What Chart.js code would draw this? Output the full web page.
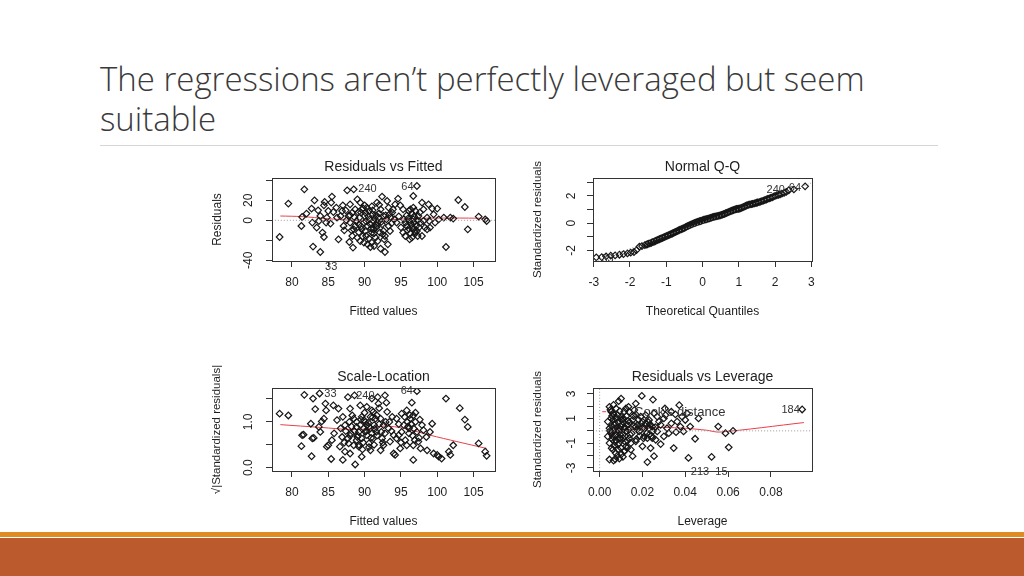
<!DOCTYPE html>
<html>
<head>
<meta charset="utf-8">
<script src="https://cdn.jsdelivr.net/npm/chart.js@4.4.0/dist/chart.umd.min.js"></script>
<style>
    body { margin: 0; width: 1024px; height: 576px; background: #fff; position: relative; overflow: hidden; }
    #slide-title { position: absolute; left: 100px; top: 59px; width: 880px; font-family: 'Open Sans', sans-serif; font-weight: 300; font-size: 33px; line-height: 40px; color: #3a3a3a; }
    #rule { position: absolute; left: 100px; top: 145px; width: 838px; height: 1px; background: #d6d6d6; }
    #stripe { position: absolute; left: 0; top: 532px; width: 1024px; height: 5px; background: #e08a22; }
    #footer { position: absolute; left: 0; top: 538px; width: 1024px; height: 38px; background: #bb5a2d; }
    canvas { position: absolute; }
</style>
</head>
<body>
<div id="slide-title">The regressions aren’t perfectly leveraged but seem<br>suitable</div>
<div id="rule"></div>
<canvas id="chart-resid-fitted" width="367" height="175" style="left:200px; top:150px;"></canvas>
<canvas id="chart-normal-qq" width="363" height="175" style="left:521px; top:150px;"></canvas>
<canvas id="chart-scale-location" width="367" height="175" style="left:200px; top:360px;"></canvas>
<canvas id="chart-resid-leverage" width="363" height="175" style="left:521px; top:360px;"></canvas>
<div id="stripe"></div>
<div id="footer"></div>
<script>
// Residuals vs Fitted
const rfFitted = [81.7, 79.5, 78.3, 83.1, 82.0, 81.4, 81.3, 82.7, 82.8, 83.6, 84.5, 84.4, 85.5, 85.4, 84.2, 84.4, 82.9, 83.9, 83.4, 84.8,
    85.3, 85.7, 86.4, 86.7, 87.0, 87.6, 88.5, 88.0, 87.9, 88.4, 87.5, 88.3, 88.7, 89.0, 89.4, 89.3, 89.6, 89.4, 90.3, 90.1,
    90.7, 90.4, 90.2, 91.0, 90.8, 91.5, 91.7, 92.4, 92.2, 91.6, 91.8, 91.2, 92.6, 92.2, 92.8, 93.2, 92.8, 93.3, 93.1, 93.8,
    94.1, 94.4, 94.6, 94.9, 95.3, 95.8, 95.8, 95.3, 95.6, 96.3, 96.5, 96.3, 96.7, 96.7, 97.2, 97.4, 97.7, 97.9, 98.1, 98.3,
    98.6, 99.3, 99.5, 99.7, 100.0, 100.2, 100.9, 101.2, 101.8, 102.2, 102.9, 103.8, 104.2, 105.7, 106.6, 106.8,
    88.9, 89.2, 89.5, 89.9, 90.0, 90.1, 90.6, 90.8, 91.0, 91.1, 91.2, 91.5, 91.6, 91.9, 92.1, 92.4, 92.6, 92.7, 93.0, 93.3,
    93.5, 93.6, 93.9, 94.2, 88.0, 87.8, 87.1, 86.9, 86.2, 86.1, 85.0, 84.7, 83.9, 83.7, 88.7, 89.6, 88.5, 88.3, 89.0, 89.9,
    90.4, 91.3, 91.8, 95.4, 95.6, 96.1, 96.7, 96.8, 97.1, 96.7, 97.0, 97.2, 97.3, 96.2, 96.5, 96.1, 98.8, 99.0, 98.1, 97.9,
    98.6, 98.9,
    88.6, 89.1, 89.5, 89.8, 90.2, 90.5, 90.9, 91.1, 91.4, 91.7, 92.0, 92.3, 92.5, 92.9, 89.2, 89.7, 90.6, 91.3, 88.2, 88.0,
    87.4, 87.2, 93.4, 93.7, 90.0, 91.0, 92.0, 96.4, 96.6, 96.9, 97.0, 96.2, 96.0, 97.5, 97.6, 95.9, 96.8, 97.3, 95.0, 94.7];
const rfResidual = [31.0, 16.7, -16.7, 20.0, 6.7, 3.3, -5.7, 11.7, -2.3, 10.0, 18.3, 15.0, 23.7, 17.7, -12.3, -16.7, -26.3, -31.7, -7.3, 2.7,
    -3.3, 8.3, -19.0, 4.3, 15.0, 30.0, 31.0, 16.0, -21.7, -27.3, 0.0, 7.7, -5.7, 21.0, 17.7, 2.7, -9.0, -20.7, 12.7, 7.7,
    1.0, -5.7, -15.7, -22.3, -26.7, -17.3, 17.7, 23.7, 11.0, 5.0, -2.3, -9.0, -10.7, -28.3, -31.7, -24.0, -15.7, 12.7, 19.3, 7.7,
    1.0, -2.3, 21.7, 15.0, 11.0, 5.0, -5.7, -12.3, -15.7, -13.0, -17.3, 11.0, 12.7, 24.3, 34.3, 4.3, -2.3, 17.7, 11.0, -7.3,
    2.7, 11.7, 6.0, -2.3, 11.7, 1.0, 2.7, -26.7, 2.7, 1.7, 20.3, 13.3, -9.0, 3.7, 1.0, -0.7,
    -0.7, -4.0, 7.7, -2.3, 4.3, -10.7, 9.3, -4.0, -12.3, 6.0, -0.7, -4.0, -7.3, 2.7, -12.3, -4.0, 4.3, -19.0, 1.0, -5.7,
    -10.7, 2.7, 11.0, 16.0, -2.3, 4.3, -5.7, 9.3, 2.7, 12.7, 9.3, -2.3, 4.3, -0.7, 11.0, 11.0, -9.0, -15.7, -17.3, -22.3,
    -24.0, -25.7, -20.7, 1.0, -2.3, -8.3, -9.0, -2.3, -5.7, 1.0, 9.3, -10.7, -15.7, -19.0, 7.0, 9.3, 16.0, -7.3, -0.7, -15.7,
    -9.0, -0.7,
    3.0, 8.0, -6.0, 12.0, -1.0, 4.0, -8.0, 10.0, 2.0, -5.0, 7.0, -1.5, -14.0, 5.0, -12.0, -16.0, -18.0, -13.0, -10.0, 5.0,
    10.0, -10.0, 6.0, -3.0, 15.0, 14.0, 15.5, -4.0, -7.0, -11.0, -13.0, -1.0, 2.0, -7.0, 8.0, -10.0, 4.0, 0.0, -7.0, 4.0];
const rfSmoothX = [78.4, 81.4, 84.8, 88.5, 91.7, 94.4, 97.7, 101.8, 106.8];
const rfSmoothY = [4.3, 3.7, 1.7, 0.0, 0.0, 1.0, 2.0, 2.3, 2.0];
const rfNoteText = ['240', '64', '33'];
const rfNoteX = [90.4, 95.9, 85.4];
const rfNoteY = [31.0, 33.3, -46.9];
const rfYTickLabels = ['20', '0', '-40'];

// Normal Q-Q
const qqTheoretical = [-2.93, -2.78, -2.66, -2.53, -2.41, -2.29, -2.18, -2.07, -1.98, -1.89, -1.82, -1.74, -1.67, -1.59, -1.52, -1.45,
    -1.38, -1.31, -1.25, -1.19, -1.13, -1.07, -1.01, -0.95, -0.89, -0.83, -0.77, -0.71, -0.65, -0.59, -0.53, -0.47, -0.41, -0.35,
    -0.29, -0.23, -0.17, -0.11, -0.05, 0.01, 0.07, 0.13, 0.19, 0.25, 0.31, 0.37, 0.43, 0.49, 0.55, 0.61, 0.67, 0.73, 0.79, 0.85,
    0.91, 0.97, 1.03, 1.09, 1.15, 1.21, 1.28, 1.35, 1.42, 1.49, 1.56, 1.64, 1.72, 1.80, 1.88, 1.96, 2.05, 2.14, 2.25, 2.38,
    2.52, 2.83,
    -1.55, -1.48, -1.41, -1.34, -1.28, -1.22, -1.16, -1.10, -1.04, -0.98, -0.92, -0.86, -0.80, -0.74, -0.68, -0.62, -0.56, -0.50,
    -0.44, -0.38, -0.32, -0.26, -0.20, -0.14, -0.08, -0.02, 0.04, 0.10, 0.16, 0.22, 0.28, 0.34, 0.40, 0.46, 0.52, 0.58, 0.64,
    0.70, 0.76, 0.82, 0.88, 0.94, 1.00, 1.06, 1.12, 1.18, 1.25, 1.31, 1.38, 1.45, 1.52, 1.60, 1.68, 1.76, 1.84, 1.92, 2.00,
    2.10, 2.19, 2.31];
const qqStandardized = [-2.51, -2.49, -2.44, -2.39, -2.37, -2.32, -2.27, -2.22, -2.17, -2.12, -1.98, -1.73, -1.68, -1.61, -1.55, -1.48,
    -1.40, -1.33, -1.25, -1.18, -1.11, -1.04, -0.97, -0.90, -0.83, -0.76, -0.68, -0.60, -0.52, -0.45, -0.38, -0.30, -0.22, -0.14,
    -0.07, 0.00, 0.06, 0.11, 0.16, 0.22, 0.27, 0.31, 0.36, 0.41, 0.46, 0.50, 0.54, 0.58, 0.63, 0.69, 0.76, 0.83, 0.90, 0.96,
    1.02, 1.05, 1.08, 1.14, 1.22, 1.30, 1.36, 1.40, 1.44, 1.50, 1.55, 1.62, 1.70, 1.78, 1.86, 1.95, 2.05, 2.12, 2.22, 2.42,
    2.48, 2.71,
    -1.58, -1.51, -1.44, -1.37, -1.29, -1.21, -1.14, -1.08, -1.01, -0.94, -0.86, -0.79, -0.72, -0.64, -0.56, -0.48, -0.41, -0.34,
    -0.26, -0.18, -0.11, -0.04, 0.03, 0.09, 0.14, 0.19, 0.25, 0.29, 0.34, 0.39, 0.44, 0.48, 0.52, 0.56, 0.61, 0.66, 0.73,
    0.80, 0.86, 0.93, 0.99, 1.04, 1.06, 1.11, 1.18, 1.26, 1.33, 1.38, 1.42, 1.47, 1.52, 1.58, 1.66, 1.74, 1.82, 1.90, 2.00,
    2.09, 2.17, 2.30];
const qqLineX = [-3.1, 3.1];
const qqLineY = [-2.95, 3.05];
const qqNoteText = ['240', '64', '33'];
const qqNoteX = [2.02, 2.55, -2.62];
const qqNoteY = [2.46, 2.59, -2.6];
const qqYTickLabels = ['2', '0', '-2'];

// Scale-Location
const slFitted = [78.3, 79.5, 81.7, 82.9, 83.8, 83.2, 84.6, 84.7, 84.4, 84.1, 82.6, 81.4, 81.6, 81.3, 82.8, 83.0, 83.9, 83.7, 82.7, 84.8,
    85.0, 85.4, 85.5, 85.7, 86.4, 86.2, 86.7, 86.6, 86.9, 87.0, 87.3, 87.7, 88.0, 88.3, 87.9, 88.1, 87.8, 88.0, 88.7, 88.6,
    88.9, 89.0, 89.2, 89.4, 89.6, 89.9, 89.6, 90.1, 90.3, 90.6, 90.8, 90.3, 91.0, 91.2, 91.3, 91.6, 91.8, 91.9, 92.2, 92.4,
    92.2, 92.6, 92.8, 93.0, 93.1, 93.3, 94.0, 94.2, 94.4, 94.7, 94.9, 95.1, 95.4, 95.6, 95.8, 97.2, 96.5, 96.7, 96.7, 97.0,
    97.2, 97.4, 97.7, 97.9, 98.1, 98.5, 98.6, 99.0, 99.3, 99.5, 100.0, 100.2, 100.6, 101.2, 101.6, 101.8, 102.2, 103.1, 103.8, 104.2,
    105.7, 106.6, 106.8,
    88.5, 88.9, 89.2, 89.4, 89.9, 90.1, 90.6, 90.8, 91.0, 91.2, 91.5, 91.7, 90.8, 90.3, 89.6, 88.9, 88.5, 87.7, 87.3, 87.0,
    94.4, 95.1, 95.5, 95.8, 96.1, 96.3, 96.1, 96.7, 93.5, 93.8, 94.0, 92.6, 92.8,
    88.6, 89.1, 89.5, 89.8, 90.2, 90.5, 90.9, 91.1, 91.4, 91.7, 92.0, 92.3, 92.5, 92.9, 89.2, 89.7, 90.6, 91.3, 88.2, 88.0,
    87.4, 87.2, 93.4, 93.7, 90.0, 91.0, 92.0, 96.4, 96.6, 96.9, 97.0, 96.2, 96.0, 97.5, 97.6, 95.9, 96.8, 95.0, 94.7, 85.8];
const slSqrtStd = [1.18, 1.14, 1.59, 1.51, 1.62, 1.28, 1.40, 1.25, 1.07, 1.01, 0.96, 0.71, 0.72, 0.47, 0.64, 0.65, 0.78, 0.89, 0.25, 0.46,
    0.49, 0.19, 0.60, 1.36, 1.29, 1.04, 0.86, 0.46, 0.67, 0.17, 0.35, 1.54, 1.29, 1.14, 1.00, 0.75, 0.53, 0.31, 0.07, 1.58,
    0.89, 0.67, 0.46, 1.36, 1.11, 0.86, 0.24, 1.00, 0.71, 0.53, 0.38, 1.33, 1.51, 1.22, 0.93, 0.78, 1.54, 1.40, 1.07, 0.64,
    0.38, 0.49, 1.58, 1.42, 1.22, 0.86, 0.31, 0.28, 1.07, 0.71, 0.42, 1.18, 0.93, 0.60, 0.49, 1.67, 1.42, 1.14, 0.17, 1.00,
    0.78, 0.57, 0.42, 0.93, 0.82, 0.67, 0.38, 0.78, 0.96, 0.31, 0.28, 0.24, 0.20, 1.51, 0.35, 0.28, 0.49, 1.30, 1.05, 0.89,
    0.53, 0.35, 0.26,
    1.07, 1.00, 0.78, 0.93, 1.04, 0.78, 0.89, 0.86, 0.75, 0.64, 1.07, 1.14, 1.11, 0.93, 0.64, 0.60, 0.49, 0.64, 0.93, 1.11,
    0.64, 0.78, 1.11, 1.25, 0.86, 1.07, 0.75, 0.49, 0.57, 1.11, 0.71, 0.93, 0.75,
    0.80, 0.70, 1.05, 0.55, 0.80, 0.98, 0.65, 1.10, 0.85, 0.70, 0.95, 0.78, 0.55, 1.00, 0.50, 0.40, 0.45, 0.50, 0.90, 0.70,
    0.80, 0.55, 1.00, 0.80, 1.20, 1.25, 1.30, 0.95, 0.70, 0.60, 1.20, 1.15, 0.90, 0.65, 1.05, 1.00, 0.85, 0.55, 0.95, 0.75];
const slSmoothX = [78.4, 83.9, 88.5, 90.8, 92.8, 95.4, 99.0, 102.7, 106.8];
const slSmoothY = [0.94, 0.88, 0.83, 0.86, 0.91, 0.86, 0.71, 0.57, 0.42];
const slNoteText = ['33', '240', '64'];
const slNoteX = [85.3, 90.1, 95.8];
const slNoteY = [1.62, 1.57, 1.67];
const slYTickLabels = ['1.0', '0.0'];

// Residuals vs Leverage
const rlLeverage = [0.0100, 0.0089, 0.0197, 0.0249, 0.0372, 0.0305, 0.0946, 0.0046, 0.0054, 0.0077, 0.0123, 0.0138, 0.0162, 0.0169, 0.0215,
    0.0269, 0.0300, 0.0335, 0.0354, 0.0385, 0.0400, 0.0408, 0.0462, 0.0335, 0.0357, 0.0392, 0.0446, 0.0554, 0.0588, 0.0623,
    0.0603, 0.0523, 0.0415, 0.0346, 0.0254, 0.0223, 0.0285, 0.0262, 0.0046, 0.0065, 0.0092, 0.0154, 0.0146, 0.0238, 0.0200,
    0.0169, 0.0115, 0.0100, 0.0062, 0.0046, 0.0038, 0.0046, 0.0038, 0.0054, 0.0069, 0.0085, 0.0077, 0.0092, 0.0108, 0.0123,
    0.0131, 0.0108, 0.0100, 0.0154, 0.0177, 0.0185, 0.0200, 0.0215, 0.0231, 0.0223, 0.0246, 0.0269, 0.0285, 0.0300, 0.0315,
    0.0323, 0.0138, 0.0146, 0.0069, 0.0085, 0.0123, 0.0062, 0.0085, 0.0115, 0.0192, 0.0231, 0.0254, 0.0277, 0.0308, 0.0362,
    0.0377, 0.0423, 0.0169, 0.0135, 0.0054, 0.0062, 0.0100, 0.0115, 0.0169, 0.0208, 0.0246, 0.0231, 0.0200,
    0.0050, 0.0058, 0.0064, 0.0072, 0.0080, 0.0088, 0.0095, 0.0052, 0.0060, 0.0068, 0.0075, 0.0083, 0.0090, 0.0098, 0.0105,
    0.0112, 0.0120, 0.0128, 0.0135, 0.0142, 0.0057, 0.0066, 0.0079, 0.0087, 0.0094, 0.0101, 0.0109, 0.0117, 0.0125, 0.0133,
    0.0048, 0.0056, 0.0071, 0.0078, 0.0086, 0.0093, 0.0102, 0.0110, 0.0118, 0.0126, 0.0150, 0.0160, 0.0175, 0.0188, 0.0195,
    0.0210, 0.0220, 0.0235, 0.0250, 0.0260, 0.0170, 0.0182, 0.0205, 0.0228, 0.0242, 0.0158, 0.0140, 0.0130, 0.0065, 0.0073];
const rlStdResidual = [2.61, 2.40, 2.83, 2.53, 2.08, 1.81, 1.73, 1.95, 1.55, 1.81, 1.81, 1.55, 1.68, 1.33, 1.28,
    1.15, 1.01, 1.55, 1.33, 1.15, 0.88, 1.41, 1.01, 0.61, -0.11, -0.05, -0.64, 0.35, -0.19, 0.00,
    -1.33, -2.11, -2.19, -1.39, -2.05, -2.53, -1.07, -0.72, -2.32, -2.40, -2.24, -2.05, -1.52, -1.39, -1.25,
    -0.85, -1.65, -1.39, -1.52, -0.99, -0.45, 0.21, 0.75, 1.01, 0.48, 0.08, -0.32, -0.59, -0.32, -0.05,
    0.48, 0.75, 1.15, 0.88, 0.48, -0.05, 0.21, 0.61, -0.32, -0.59, 0.35, -0.05, 0.48, -0.45, 0.21,
    -0.19, -0.59, -0.99, -0.85, -1.12, -1.25, 1.41, 1.28, 1.55, 1.15, 0.88, 1.41, 0.75, 1.28, 0.75,
    0.35, 0.35, 2.21, 1.95, -0.05, -0.45, 0.35, 0.21, 0.35, -0.45, -0.59, 0.21, 0.75,
    1.70, 1.20, 0.90, 0.60, 0.30, 0.00, -0.30, -0.20, -0.70, -1.20, -1.80, -2.00, -1.00, -0.60, 0.50,
    1.00, -0.90, -1.40, 0.10, -0.30, 0.40, 1.30, 1.00, 0.70, 1.60, -1.90, -2.10, 0.30, 1.20, 0.80,
    0.00, -1.40, -0.40, -0.80, -1.50, 0.20, 0.90, -0.60, -1.60, 0.00, -0.20, 0.40, 0.10, -0.40, 0.60,
    0.20, -0.20, 0.50, 0.00, 0.30, -0.70, 0.90, -0.60, 0.70, -0.40, 1.20, 0.70, -0.80, 2.10, -2.30];
const rlSmoothX = [0.0038, 0.0100, 0.0200, 0.0300, 0.0400, 0.0500, 0.0560, 0.0954];
const rlSmoothY = [-0.19, 0.00, 0.21, 0.27, 0.21, 0.05, -0.10, 0.67];
const rlCookKeyX = [0.0012, 0.0069];
const rlCookKeyY = [1.55, 1.55];
const rlNoteText = ['184', '213', '15', "Cook's distance"];
const rlNoteX = [0.0892, 0.0469, 0.0569, 0.0374];
const rlNoteY = [1.68, -3.30, -3.30, 1.49];
const rlYTickLabels = ['3', '1', '-1', '-3'];

const inkColor = '#1e1e1e';
const smoothColor = '#e8404a';
const refColor = '#9a9a9a';
const plotFont = 'Liberation Sans, Arial, sans-serif';

function toPoints(xs, ys) {
    return xs.map(function (x, i) {
        return { x: x, y: ys[i] };
    });
}

function pointsDataset(xs, ys) {
    return {
        type: 'scatter',
        data: toPoints(xs, ys),
        pointStyle: 'rectRot',
        pointRadius: 3.3,
        borderWidth: 1.2,
        borderColor: '#161616',
        backgroundColor: 'rgba(0,0,0,0)',
        showLine: false
    };
}

function lineDataset(xs, ys, color, dash) {
    return {
        type: 'line',
        data: toPoints(xs, ys),
        borderColor: color,
        borderWidth: 1,
        borderDash: dash || [],
        pointRadius: 0,
        fill: false,
        tension: 0.3
    };
}

// R style frame, caption and point ids
const rPlotDecor = {
    id: 'rPlotDecor',
    afterDraw: function (chart, args, opts) {
        const ctx = chart.ctx;
        const area = chart.chartArea;
        ctx.save();
        ctx.strokeStyle = '#333';
        ctx.lineWidth = 1;
        ctx.strokeRect(Math.round(area.left) + 0.5, Math.round(area.top) + 0.5,
            Math.round(area.right - area.left), Math.round(area.bottom - area.top));

        ctx.fillStyle = inkColor;
        ctx.textAlign = 'center';
        ctx.textBaseline = 'middle';
        ctx.font = '14px ' + plotFont;
        ctx.fillText(opts.caption, (area.left + area.right) / 2, area.top - 11);

        const xScale = chart.scales.x;
        const yScale = chart.scales.y;
        opts.noteText.forEach(function (text, i) {
            ctx.font = (text.length > 4 ? '13px ' : '11px ') + plotFont;
            ctx.fillStyle = '#333';
            ctx.fillText(text, xScale.getPixelForValue(opts.noteX[i]), yScale.getPixelForValue(opts.noteY[i]));
        });
        ctx.restore();
    }
};

function makePanel(elementId, setup) {
    return new Chart(document.getElementById(elementId), {
        data: { datasets: setup.datasets },
        options: {
            responsive: false,
            animation: false,
            devicePixelRatio: 1,
            layout: { padding: { top: 28, right: 72, left: 0, bottom: 0 } },
            scales: {
                x: {
                    type: 'linear',
                    min: setup.xMin,
                    max: setup.xMax,
                    afterFit: function (scale) { scale.height = 64; },
                    ticks: {
                        stepSize: setup.xStep,
                        includeBounds: false,
                        autoSkip: false,
                        maxRotation: 0,
                        padding: 8,
                        color: inkColor,
                        font: { family: plotFont, size: 12 },
                        callback: setup.xFormat
                    },
                    grid: { drawOnChartArea: false, drawTicks: true, tickLength: 6, color: '#333' },
                    border: { display: true, color: '#333' },
                    title: {
                        display: true,
                        text: setup.xTitle,
                        color: inkColor,
                        font: { family: plotFont, size: 12 },
                        padding: { top: 0, bottom: 6.5 }
                    }
                },
                y: {
                    type: 'linear',
                    min: setup.yMin,
                    max: setup.yMax,
                    afterFit: function (scale) { scale.width = 72; },
                    ticks: {
                        stepSize: setup.yStep,
                        includeBounds: false,
                        autoSkip: false,
                        minRotation: 90,
                        maxRotation: 90,
                        crossAlign: 'center',
                        padding: setup.yPad,
                        color: inkColor,
                        font: { family: plotFont, size: 12 },
                        callback: function (value) {
                            const label = setup.yFormat(value);
                            return setup.yShown.includes(label) ? label : '';
                        }
                    },
                    grid: { drawOnChartArea: false, drawTicks: true, tickLength: 6, color: '#333' },
                    border: { display: true, color: '#333' },
                    title: {
                        display: true,
                        text: setup.yTitle,
                        color: inkColor,
                        font: { family: plotFont, size: setup.yTitleSize },
                        padding: { top: setup.yTitlePad, bottom: 0 }
                    }
                }
            },
            plugins: {
                legend: { display: false },
                tooltip: { enabled: false },
                rPlotDecor: {
                    caption: setup.caption,
                    noteText: setup.noteText,
                    noteX: setup.noteX,
                    noteY: setup.noteY
                }
            }
        },
        plugins: [rPlotDecor]
    });
}

function intLabel(v) { return String(Math.round(v)); }

makePanel('chart-resid-fitted', {
    caption: 'Residuals vs Fitted',
    xMin: 77.25, xMax: 107.95, xStep: 5, xFormat: intLabel, xTitle: 'Fitted values',
    yMin: -40.7, yMax: 42.3, yStep: 20, yFormat: intLabel, yShown: rfYTickLabels, yPad: 9,
    yTitle: 'Residuals', yTitleSize: 12, yTitlePad: 10.8,
    noteText: rfNoteText, noteX: rfNoteX, noteY: rfNoteY,
    datasets: [
        lineDataset([77.25, 107.95], [0, 0], refColor, [1, 2]),
        pointsDataset(rfFitted, rfResidual),
        lineDataset(rfSmoothX, rfSmoothY, smoothColor)
    ]
});

makePanel('chart-normal-qq', {
    caption: 'Normal Q-Q',
    xMin: -3.02, xMax: 3.02, xStep: 1, xFormat: intLabel, xTitle: 'Theoretical Quantiles',
    yMin: -2.78, yMax: 3.32, yStep: 1, yFormat: intLabel, yShown: qqYTickLabels, yPad: 10,
    yTitle: 'Standardized residuals', yTitleSize: 11.5, yTitlePad: 9.8,
    noteText: qqNoteText, noteX: qqNoteX, noteY: qqNoteY,
    datasets: [
        lineDataset(qqLineX, qqLineY, refColor, [1, 2]),
        pointsDataset(qqTheoretical, qqStandardized)
    ]
});

makePanel('chart-scale-location', {
    caption: 'Scale-Location',
    xMin: 77.25, xMax: 107.95, xStep: 5, xFormat: intLabel, xTitle: 'Fitted values',
    yMin: -0.072, yMax: 1.74, yStep: 0.5, yFormat: function (v) { return v.toFixed(1); }, yShown: slYTickLabels, yPad: 9.3,
    yTitle: '√|Standardized residuals|', yTitleSize: 11.5, yTitlePad: 10.1,
    noteText: slNoteText, noteX: slNoteX, noteY: slNoteY,
    datasets: [
        pointsDataset(slFitted, slSqrtStd),
        lineDataset(slSmoothX, slSmoothY, smoothColor)
    ]
});

makePanel('chart-resid-leverage', {
    caption: 'Residuals vs Leverage',
    xMin: -0.0031, xMax: 0.0992, xStep: 0.02, xFormat: function (v) { return Math.abs(v).toFixed(2); }, xTitle: 'Leverage',
    yMin: -3.25, yMax: 3.47, yStep: 1, yFormat: intLabel, yShown: rlYTickLabels, yPad: 10,
    yTitle: 'Standardized residuals', yTitleSize: 11.5, yTitlePad: 9.8,
    noteText: rlNoteText, noteX: rlNoteX, noteY: rlNoteY,
    datasets: [
        lineDataset([-0.0031, 0.0992], [0, 0], refColor, [1, 2]),
        lineDataset([0, 0], [-3.25, 3.47], refColor, [1, 2]),
        pointsDataset(rlLeverage, rlStdResidual),
        lineDataset(rlSmoothX, rlSmoothY, smoothColor),
        lineDataset(rlCookKeyX, rlCookKeyY, smoothColor, [4, 2])
    ]
});
</script>
</body>
</html>
